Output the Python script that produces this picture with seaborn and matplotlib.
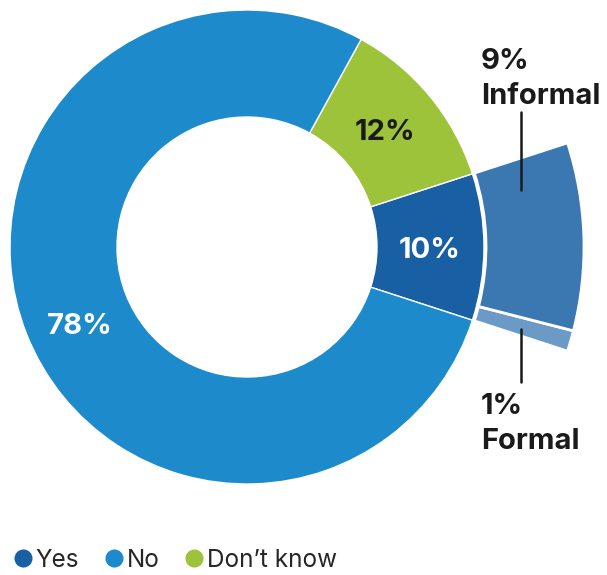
import matplotlib
matplotlib.use("Agg")
import matplotlib.pyplot as plt
from matplotlib.lines import Line2D
import seaborn as sns

# Survey answers (percent of respondents)
answers = ["Yes", "Don’t know", "No"]
shares = [10, 12, 78]
answer_colors = ["#195fa3", "#9dc33b", "#1d8bcb"]

# Breakdown of the "Yes" answers
yes_kinds = ["Formal", "Informal"]
yes_shares = [1, 9]
yes_colors = ["#6b9ac6", "#3b78b2"]

legend_order = ["Yes", "No", "Don’t know"]

sns.set_theme(style="white")
plt.rcParams["font.family"] = ["Inter", "DejaVu Sans"]

W, H = 607, 575
fig = plt.figure(figsize=(W / 100, H / 100), dpi=100)
ax = fig.add_axes([0, 0, 1, 1])

cx, cy = 247, H - 247
r_out, r_in = 237, 130
start = -180 * shares[0] / 100  # centre the "Yes" wedge on the right

ax.pie(shares, colors=answer_colors, startangle=start, counterclock=True,
       radius=r_out, center=(cx, cy), frame=True,
       wedgeprops=dict(width=r_out - r_in, edgecolor="white", linewidth=1))

# Exploded ring showing how the "Yes" share splits
outer_vals = yes_shares + [100 - sum(yes_shares)]
outer_cols = yes_colors + ["none"]
wedges, _ = ax.pie(outer_vals, colors=outer_cols, startangle=start, counterclock=True,
                   radius=337, center=(cx, cy), frame=True,
                   wedgeprops=dict(width=337 - 239, edgecolor="white", linewidth=2))
wedges[-1].set_edgecolor("none")
ax.set_xlim(0, W)
ax.set_ylim(0, H)
ax.set_aspect("equal")
ax.axis("off")

lab = dict(fontsize=21, fontweight="bold", ha="center", va="center")
ax.text(80, H - 327, f"{shares[2]}%", color="white", **lab)
ax.text(385, H - 133, f"{shares[1]}%", color="#1a1a1a", **lab)
ax.text(430, H - 250, f"{shares[0]}%", color="white", **lab)

side = dict(fontsize=21, fontweight="bold", ha="left", va="center",
            color="#1a1a1a", linespacing=1.35)
ax.text(481, H - 79, f"{yes_shares[1]}%\n{yes_kinds[1]}", **side)
ax.text(481, H - 424, f"{yes_shares[0]}%\n{yes_kinds[0]}", **side)

ax.plot([521, 521], [H - 112, H - 190], color="#1a1a1a", lw=1.8)
ax.plot([521, 521], [H - 329, H - 382], color="#1a1a1a", lw=1.8)

color_of = dict(zip(answers, answer_colors))
handles = [Line2D([], [], marker="o", linestyle="none", markersize=13,
                  markerfacecolor=color_of[a], markeredgecolor="none") for a in legend_order]
ax.legend(handles, legend_order, loc="lower left", bbox_to_anchor=(-0.005, -0.02),
          ncol=3, frameon=False, fontsize=17.5, handletextpad=0.05,
          columnspacing=0.95, handlelength=0.95, borderaxespad=0.2)

fig.savefig("out.png", dpi=100)
